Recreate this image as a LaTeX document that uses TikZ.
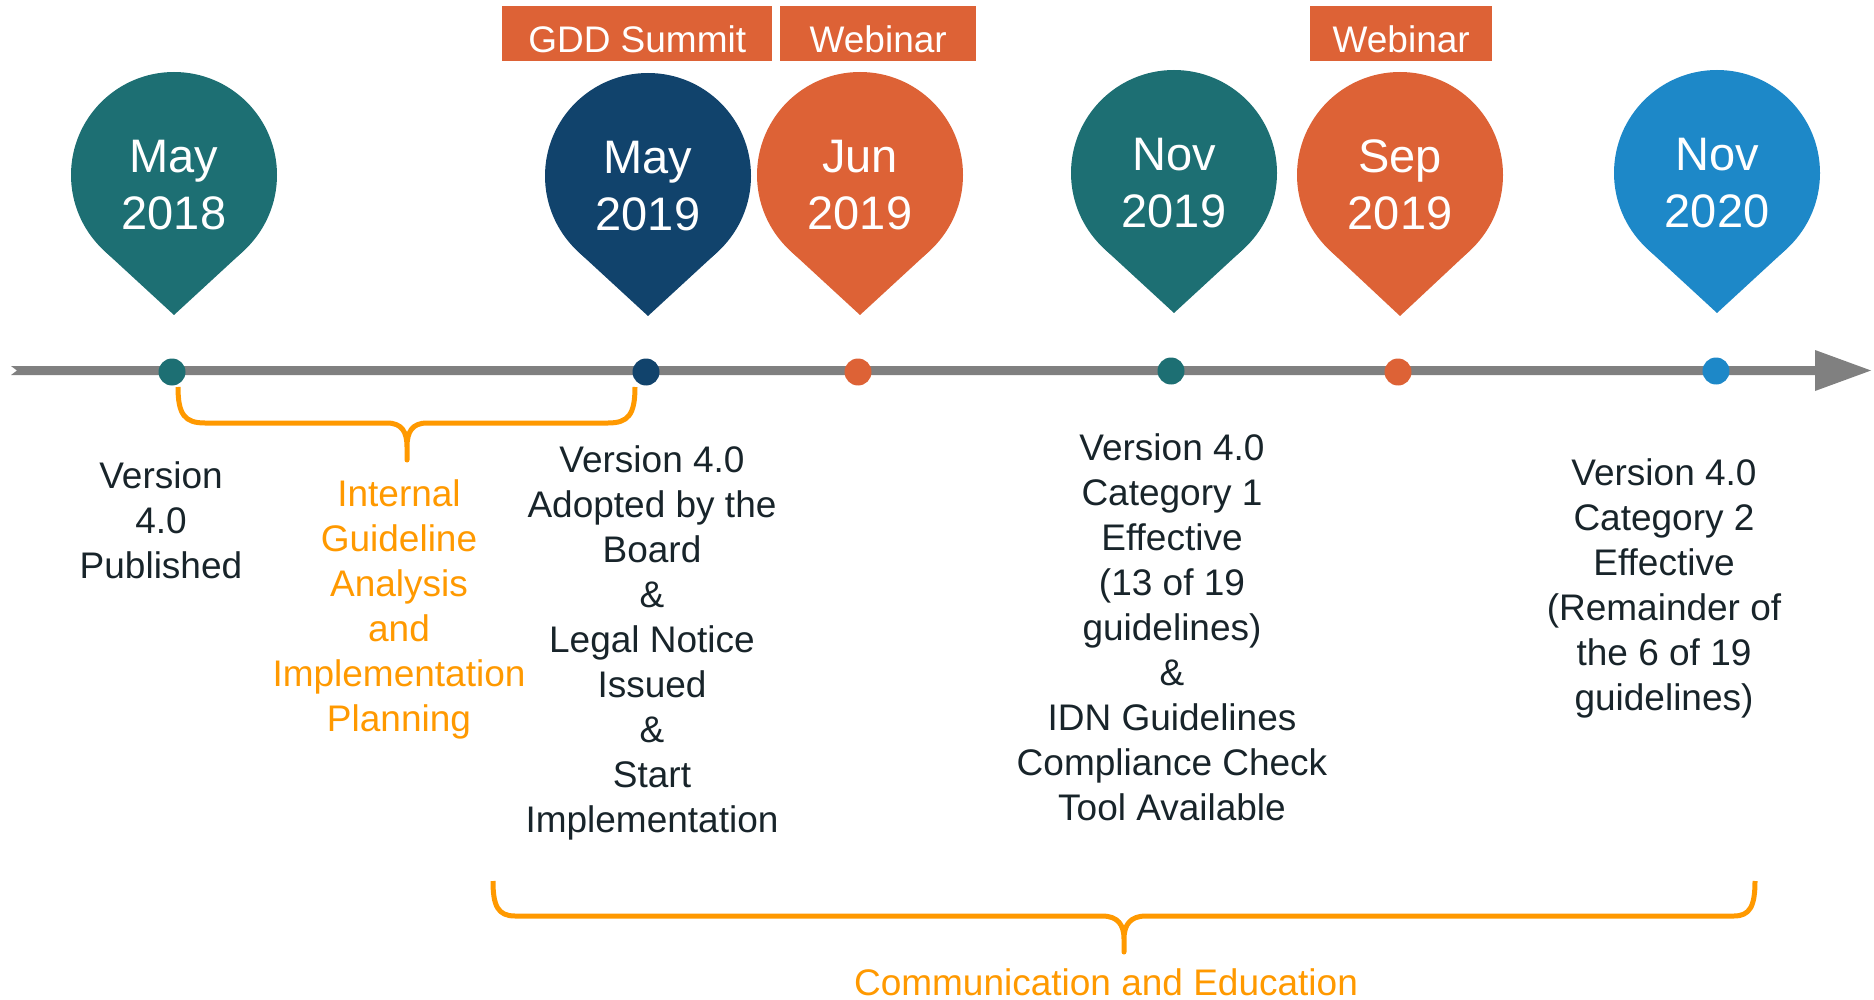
\documentclass[tikz,border=0pt]{standalone}
\usepackage{fontspec}
\setmainfont{Liberation Sans}
\usetikzlibrary{calc}
\definecolor{pteal}{RGB}{29,111,115}
\definecolor{pnavy}{RGB}{17,67,108}
\definecolor{porange}{RGB}{221,98,54}
\definecolor{pblue}{RGB}{29,136,200}
\definecolor{amber}{RGB}{255,153,0}
\definecolor{linegray}{RGB}{128,128,128}
\definecolor{txt}{RGB}{24,36,42}
\begin{document}
\begin{tikzpicture}[x=1pt,y=-1pt,
  pinc/.style={circle, fill=#1, draw=none, minimum size=206pt, inner sep=0pt},
  pintext/.style={text=white, font=\fontsize{47}{57}\selectfont, align=center, inner sep=0pt},
  tdot/.style={circle, fill=#1, draw=none, minimum size=27pt, inner sep=0pt},
  evbox/.style={fill=porange, text=white, font=\fontsize{37}{44}\selectfont, inner sep=0pt,
    text height=46pt, text depth=9pt, anchor=north west, minimum height=55pt},
  desc/.style={text=#1, font=\fontsize{37}{45}\selectfont, align=center, inner sep=0pt, anchor=north},
  brace/.style={draw=amber, line width=5pt, line join=round}
]
\useasboundingbox (0,0) rectangle (1874,1000);

% timeline arrow
\coordinate (tl0) at (11,370.5);
\coordinate (tl1) at (1871,370.5);
\fill[linegray] ($(tl0)+(0,-4.5)$) -- ($(tl1)+(-56,-4.5)$) -- ($(tl1)+(-56,-20.5)$) -- (tl1)
  -- ($(tl1)+(-56,20.5)$) -- ($(tl1)+(-56,4.5)$) -- ($(tl0)+(0,4.5)$) -- ($(tl0)+(6,0)$) -- cycle;

% event boxes
\node[evbox, minimum width=270pt] (gdd) at (502,6) {GDD Summit};
\node[evbox, minimum width=196pt] (web1) at (780,6) {Webinar};
\node[evbox, minimum width=182pt] (web2) at (1310,6) {Webinar};

% pins
\node[pinc=pteal] (p1) at (174,175) {};
\fill[pteal] ($(p1.center)+(-69.7,75.8)$) -- ($(p1.center)+(0,140)$) -- ($(p1.center)+(69.7,75.8)$) -- cycle;
\node[pintext] (p1t) at (174,185) {May\\2018};

\node[pinc=pnavy] (p2) at (648,176) {};
\fill[pnavy] ($(p2.center)+(-69.7,75.8)$) -- ($(p2.center)+(0,140)$) -- ($(p2.center)+(69.7,75.8)$) -- cycle;
\node[pintext] (p2t) at (648,186) {May\\2019};

\node[pinc=porange] (p3) at (860,175) {};
\fill[porange] ($(p3.center)+(-69.7,75.8)$) -- ($(p3.center)+(0,140)$) -- ($(p3.center)+(69.7,75.8)$) -- cycle;
\node[pintext] (p3t) at (860,185) {Jun\\2019};

\node[pinc=pteal] (p4) at (1174,173) {};
\fill[pteal] ($(p4.center)+(-69.7,75.8)$) -- ($(p4.center)+(0,140)$) -- ($(p4.center)+(69.7,75.8)$) -- cycle;
\node[pintext] (p4t) at (1174,183) {Nov\\2019};

\node[pinc=porange] (p5) at (1400,175) {};
\fill[porange] ($(p5.center)+(-69.7,75.8)$) -- ($(p5.center)+(0,141)$) -- ($(p5.center)+(69.7,75.8)$) -- cycle;
\node[pintext] (p5t) at (1400,185) {Sep\\2019};

\node[pinc=pblue] (p6) at (1717,173) {};
\fill[pblue] ($(p6.center)+(-69.7,75.8)$) -- ($(p6.center)+(0,140)$) -- ($(p6.center)+(69.7,75.8)$) -- cycle;
\node[pintext] (p6t) at (1717,183) {Nov\\2020};

% dots on the timeline
\node[tdot=pteal] (d1) at (172,372) {};
\node[tdot=pnavy] (d2) at (646,372) {};
\node[tdot=porange] (d3) at (858,372) {};
\node[tdot=pteal] (d4) at (1171,371) {};
\node[tdot=porange] (d5) at (1398,372) {};
\node[tdot=pblue] (d6) at (1716,371) {};

% bracket 1
\coordinate (b1a) at (178,387);
\coordinate (b1b) at (635,387);
\coordinate (b1m) at (407,460);
\draw[brace] (b1a) .. controls (178,415) and (185,423) .. (205,423) -- (387,423)
  .. controls (402,423) and (407,432) .. (407,447) -- (b1m) -- (407,447)
  .. controls (407,432) and (412,423) .. (427,423) -- (608,423)
  .. controls (628,423) and (635,415) .. (b1b);

% bracket 2
\coordinate (b2a) at (493,881);
\coordinate (b2b) at (1755,881);
\coordinate (b2m) at (1124,952);
\draw[brace] (b2a) .. controls (493,906) and (498,916) .. (515,916) -- (1102,916)
  .. controls (1118,916) and (1124,925) .. (1124,939) -- (b2m) -- (1124,939)
  .. controls (1124,925) and (1130,916) .. (1146,916) -- (1734,916)
  .. controls (1750,916) and (1755,906) .. (b2b);

% descriptions
\node[desc=txt] (t1) at (161,461.5) {Version\\4.0\\Published};
\node[desc=amber] (t2) at (399,479.5) {Internal\\Guideline\\Analysis\\and\\Implementation\\Planning};
\node[desc=txt] (t3) at (652,445.5) {Version 4.0\\Adopted by the\\Board\\\&\\Legal Notice\\Issued\\\&\\Start\\Implementation};
\node[desc=txt] (t4) at (1172,433.5) {Version 4.0\\Category 1\\Effective\\(13 of 19\\guidelines)\\\&\\IDN Guidelines\\Compliance Check\\Tool Available};
\node[desc=txt] (t5) at (1664,458.5) {Version 4.0\\Category 2\\Effective\\(Remainder of\\the 6 of 19\\guidelines)};
\node[text=amber, font=\fontsize{37}{45}\selectfont, inner sep=0pt, anchor=base] (t6) at (1106,995) {Communication and Education};
\end{tikzpicture}
\end{document}
